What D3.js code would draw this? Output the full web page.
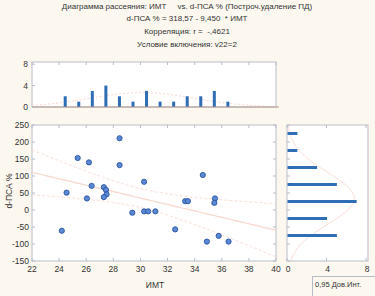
<!DOCTYPE html>
<html><head><meta charset="utf-8">
<script src="https://cdn.jsdelivr.net/npm/d3@7"></script>
<style>
html,body{margin:0;padding:0;background:#fcf8ef;}
svg{display:block;font-family:"Liberation Sans",Arial,sans-serif;}
</style></head><body>
<svg id="c" width="375" height="296"></svg>
<script>
const titleLines = [
  "Диаграмма рассеяния: ИМТ     vs. d-ПСА % (Построч.удаление ПД)",
  "d-ПСА % = 318,57 - 9,450  * ИМТ",
  "Корреляция: r =  -,4621",
  "Условие включения: v22=2"
];
const imt = [24.55, 25.37, 26.2, 26.05, 26.4, 27.3, 27.46, 27.5, 27.3, 28.46, 28.46, 30.27, 33.3, 33.5, 34.6, 35.5, 35.45, 24.2, 29.4, 30.27, 30.57, 31.1, 32.56, 34.9, 35.77, 36.5];
const psa = [51, 153, 140, 34, 71, 67, 59, 46, 38, 211, 132, 83, 26, 26, 103, 34, 21, -61, -8, -4, -4, -4, -57, -93, -76, -93];
const xTicks = [22, 24, 26, 28, 30, 32, 34, 36, 38, 40];
const yTicks = [-150, -100, -50, 0, 50, 100, 150, 200, 250];
const histXStart = [24, 25, 26, 27, 28, 29, 30, 31, 32, 33, 34, 35, 36];
const histXCount = [2, 1, 3, 4, 2, 1, 3, 1, 1, 2, 2, 3, 1];
const histYStart = [-100, -50, 0, 50, 100, 150, 200];
const histYCount = [5, 4, 7, 5, 3, 1, 1];
const countTicks = [0, 4, 8];
const regA = 318.57, regB = -9.450;

const svg = d3.select("#c");
const frameCol = "#b9bdca", textCol = "#333", barCol = "#2f6db5", pink = "#f8d6cc";

// titles
const ty = [9, 21, 34, 47];
titleLines.forEach((t, i) => {
  svg.append("text").attr("x", 187).attr("y", ty[i]).attr("text-anchor", "middle")
    .attr("font-size", 8).attr("fill", textCol).attr("xml:space", "preserve").text(t);
});

// scales
const x = d3.scaleLinear().domain([22, 40]).range([32, 276]);
const y = d3.scaleLinear().domain([-150, 250]).range([261, 125]);
const hy = d3.scaleLinear().domain([0, 8.4]).range([107, 62]);
const hx = d3.scaleLinear().domain([0, 8.2]).range([287, 368]);

function frame(x0, y0, x1, y1) {
  svg.append("rect").attr("x", x0).attr("y", y0).attr("width", x1 - x0).attr("height", y1 - y0)
    .attr("fill", "#fff").attr("stroke", frameCol).attr("stroke-width", 1);
}
frame(32, 62, 276, 107);
frame(32, 125, 276, 261);
frame(287, 125, 368, 261);

// stats for fitted curves
const n = imt.length;
const mx = d3.mean(imt), my = d3.mean(psa);
const sx = d3.deviation(imt), sy = d3.deviation(psa);
const sxx = d3.sum(imt, v => (v - mx) ** 2);
const resid = imt.map((v, i) => psa[i] - (regA + regB * v));
const se = Math.sqrt(d3.sum(resid, r => r * r) / (n - 2));
const tval = 2.064;

// top histogram normal curve
const normX = d3.range(22, 40.01, 0.25).map(v => [v, n * 1 / (sx * Math.sqrt(2 * Math.PI)) * Math.exp(-0.5 * ((v - mx) / sx) ** 2)]);
svg.append("path").datum(normX).attr("fill", "none").attr("stroke", pink).attr("stroke-width", 1).attr("stroke-dasharray", "2,2")
  .attr("d", d3.line().x(d => x(d[0])).y(d => hy(d[1])));
// right histogram normal curve
const normY = d3.range(-150, 250.01, 5).map(v => [v, n * 50 / (sy * Math.sqrt(2 * Math.PI)) * Math.exp(-0.5 * ((v - my) / sy) ** 2)]);
svg.append("path").datum(normY).attr("fill", "none").attr("stroke", pink).attr("stroke-width", 0.8)
  .attr("d", d3.line().x(d => hx(d[1])).y(d => y(d[0])));

// top histogram bars
svg.selectAll(".hb").data(histXStart).enter().append("rect")
  .attr("x", (d) => x(d + 0.45) - 1.5).attr("width", 3)
  .attr("y", (d, i) => hy(histXCount[i])).attr("height", (d, i) => hy(0) - hy(histXCount[i]))
  .attr("fill", barCol);
svg.append("line").attr("x1", 32).attr("x2", 279).attr("y1", hy(0)).attr("y2", hy(0)).attr("stroke", "#b59a8c").attr("stroke-width", 1);

// right histogram bars
svg.selectAll(".vb").data(histYStart).enter().append("rect")
  .attr("y", d => y(d + 25) - 1.5).attr("height", 3)
  .attr("x", hx(0) + 0.5).attr("width", (d, i) => hx(histYCount[i]) - hx(0))
  .attr("fill", barCol);

// regression line & CI bands
svg.append("clipPath").attr("id", "cp").append("rect").attr("x", 32).attr("y", 125).attr("width", 244).attr("height", 136);
const xs = d3.range(22, 40.01, 0.25);
const reg = xs.map(v => [v, regA + regB * v]);
const band = s => xs.map(v => [v, regA + regB * v + s * tval * se * Math.sqrt(1 / n + (v - mx) ** 2 / sxx)]);
const ln = d3.line().x(d => x(d[0])).y(d => y(d[1]));
const g = svg.append("g").attr("clip-path", "url(#cp)");
g.append("path").datum(reg).attr("fill", "none").attr("stroke", pink).attr("stroke-width", 1.2).attr("d", ln);
[band(1), band(-1)].forEach(b => g.append("path").datum(b).attr("fill", "none").attr("stroke", pink).attr("stroke-width", 0.8).attr("stroke-dasharray", "3,2").attr("d", ln));

// points
svg.selectAll(".pt").data(imt).enter().append("circle")
  .attr("cx", d => x(d)).attr("cy", (d, i) => y(psa[i])).attr("r", 2.6)
  .attr("fill", "#5a88d4").attr("stroke", "#2a55a0").attr("stroke-width", 0.9);

// ticks on frames
const tk = (x1, y1, x2, y2) => svg.append("line").attr("x1", x1).attr("y1", y1).attr("x2", x2).attr("y2", y2).attr("stroke", frameCol).attr("stroke-width", 1);
xTicks.forEach(v => { tk(x(v), 261, x(v), 258); tk(x(v), 125, x(v), 128); tk(x(v), 62, x(v), 65); });
yTicks.forEach(v => { tk(32, y(v), 35, y(v)); tk(276, y(v), 273, y(v)); tk(287, y(v), 290, y(v)); });
countTicks.forEach(v => { tk(32, hy(v), 35, hy(v)); tk(hx(v), 261, hx(v), 258); tk(hx(v), 125, hx(v), 128); });

// tick labels
const lab = (tx, tyy, t, anchor) => svg.append("text").attr("x", tx).attr("y", tyy).attr("text-anchor", anchor)
  .attr("font-size", 8.5).attr("fill", textCol).text(t);
xTicks.forEach(v => lab(x(v), 272, v, "middle"));
yTicks.forEach(v => lab(29, y(v) + 3, v, "end"));
countTicks.forEach(v => lab(28, hy(v) + 3, v, "end"));
countTicks.forEach(v => lab(hx(v) + 1, 272, v, "middle"));

// axis titles
svg.append("text").attr("x", 155).attr("y", 288).attr("text-anchor", "middle").attr("font-size", 8.5).attr("fill", textCol).text("ИМТ");
svg.append("text").attr("transform", "translate(12,191) rotate(-90)").attr("text-anchor", "middle").attr("font-size", 8.5).attr("fill", textCol).text("d-ПСА %");

// legend box
svg.append("rect").attr("x", 312.5).attr("y", 276.5).attr("width", 70).attr("height", 30).attr("fill", "#fcf8ef").attr("stroke", frameCol);
svg.append("text").attr("x", 315).attr("y", 287).attr("font-size", 7.5).attr("fill", textCol).text("0,95 Дов.Инт.");
</script>
</body></html>
